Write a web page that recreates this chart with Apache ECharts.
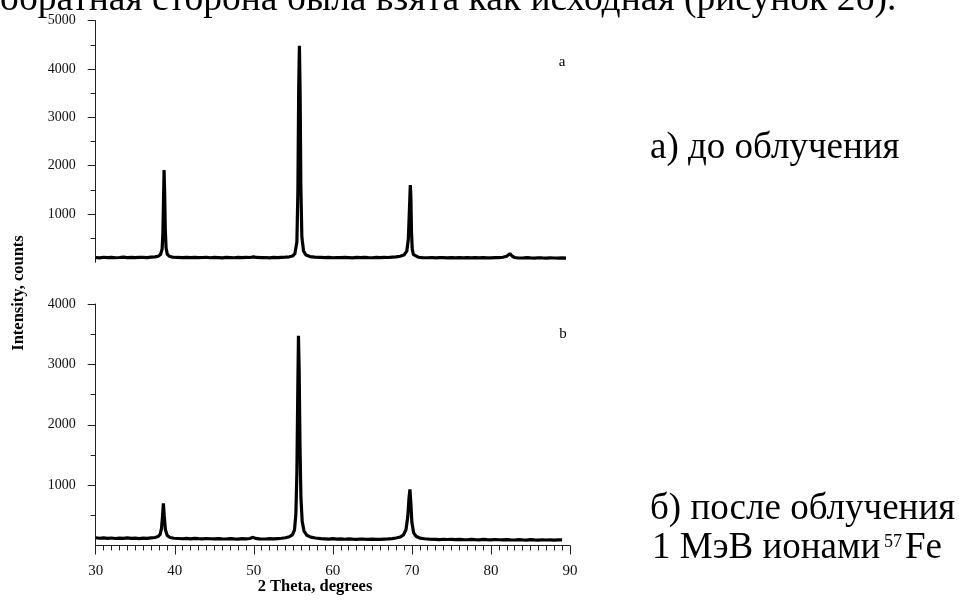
<!DOCTYPE html>
<html>
<head>
<meta charset="utf-8">
<script src="https://cdn.jsdelivr.net/npm/echarts@6/dist/echarts.min.js"></script>
<style>html,body{margin:0;padding:0;background:#fff}#c{width:959px;height:601px}</style>
</head>
<body>
<div id="c"></div>
<script>
// ---- data ----
const xTicks = [30, 40, 50, 60, 70, 80, 90];
const yTicksA = [1000, 2000, 3000, 4000, 5000];
const yTicksB = [1000, 2000, 3000, 4000];

// pattern a (before irradiation)
const thetaA = [30, 30.5, 31, 31.5, 32, 32.5, 33, 33.5, 34, 34.5, 35, 35.5, 36, 36.5, 37, 37.5, 37.9, 38.2, 38.4, 38.5, 38.58, 38.65, 38.72, 38.8, 38.9, 39.05, 39.3, 39.7, 40.2, 41, 41.5, 42, 42.5, 43, 43.5, 44, 44.5, 45, 45.5, 46, 46.5, 47, 47.5, 48, 48.5, 49, 49.5, 50, 50.3, 51, 51.5, 52, 52.5, 53, 53.5, 54, 54.5, 54.9, 55.2, 55.45, 55.58, 55.68, 55.77, 55.86, 55.95, 56.08, 56.3, 56.6, 57.1, 57.7, 58.5, 59, 59.5, 60, 60.5, 61, 61.5, 62, 62.5, 63, 63.5, 64, 64.5, 65, 65.5, 66, 66.5, 67, 67.5, 68, 68.5, 69, 69.35, 69.55, 69.7, 69.8, 69.87, 69.95, 70.05, 70.2, 70.45, 70.8, 71.3, 72, 72.5, 73, 73.5, 74, 74.5, 75, 75.5, 76, 76.5, 77, 77.5, 78, 78.5, 79, 79.5, 80, 80.5, 81, 81.5, 82, 82.4, 82.7, 83.0, 83.4, 84, 84.5, 85, 85.5, 86, 86.5, 87, 87.5, 88, 88.5, 89, 89.5, 90];
const countsA = [100, 92, 104, 96, 101, 94, 99, 106, 97, 102, 95, 100, 103, 98, 106, 112, 125, 160, 270, 600, 1300, 1910, 1450, 700, 300, 170, 125, 108, 100, 97, 103, 95, 101, 96, 99, 104, 94, 100, 97, 92, 101, 98, 94, 100, 96, 103, 99, 112, 100, 95, 99, 93, 101, 97, 103, 106, 114, 130, 180, 420, 1500, 3600, 4480, 3500, 1600, 520, 230, 150, 118, 106, 100, 96, 102, 94, 99, 95, 101, 97, 93, 100, 96, 103, 98, 94, 100, 97, 102, 99, 106, 112, 125, 150, 230, 480, 1150, 1600, 1350, 620, 260, 160, 120, 105, 98, 94, 99, 92, 97, 95, 90, 98, 93, 96, 91, 97, 92, 95, 90, 96, 93, 91, 97, 95, 105, 125, 180, 125, 100, 92, 89, 95, 91, 88, 94, 90, 87, 93, 89, 86, 92, 88];

// pattern b (after 1 MeV 57Fe irradiation)
const thetaB = [30, 30.5, 31, 31.5, 32, 32.5, 33, 33.5, 34, 34.5, 35, 35.5, 36, 36.5, 37, 37.5, 37.9, 38.15, 38.32, 38.45, 38.56, 38.67, 38.82, 39.05, 39.4, 39.9, 40.5, 41, 41.5, 42, 42.5, 43, 43.5, 44, 44.5, 45, 45.5, 46, 46.5, 47, 47.5, 48, 48.5, 49, 49.5, 49.9, 50.2, 50.7, 51.5, 52, 52.5, 53, 53.5, 54, 54.5, 54.9, 55.15, 55.32, 55.45, 55.55, 55.65, 55.74, 55.84, 55.96, 56.12, 56.35, 56.7, 57.2, 57.8, 58.5, 59, 59.5, 60, 60.5, 61, 61.5, 62, 62.5, 63, 63.5, 64, 64.5, 65, 65.5, 66, 66.5, 67, 67.5, 68, 68.5, 68.9, 69.25, 69.48, 69.63, 69.75, 69.86, 70.0, 70.22, 70.55, 71, 71.6, 72.2, 73, 73.5, 74, 74.5, 75, 75.5, 76, 76.5, 77, 77.5, 78, 78.5, 79, 79.5, 80, 80.5, 81, 81.5, 82, 82.5, 83, 83.5, 84, 84.5, 85, 85.5, 86, 86.5, 87, 87.5, 88, 88.5, 89, 89.5, 90];
const countsB = [128, 120, 126, 118, 124, 116, 122, 119, 125, 117, 121, 115, 122, 118, 126, 132, 148, 185, 280, 480, 700, 490, 260, 165, 132, 120, 116, 112, 119, 111, 117, 113, 110, 116, 112, 109, 115, 111, 108, 114, 110, 107, 113, 110, 116, 135, 118, 110, 108, 113, 110, 115, 120, 128, 145, 180, 260, 520, 1200, 2400, 3475, 2900, 1700, 800, 400, 240, 170, 138, 124, 115, 111, 107, 113, 106, 110, 104, 109, 105, 102, 108, 104, 101, 107, 103, 100, 106, 109, 115, 124, 140, 170, 260, 480, 780, 930, 720, 380, 210, 150, 123, 112, 106, 102, 98, 104, 99, 101, 96, 102, 98, 95, 101, 97, 94, 100, 96, 93, 99, 95, 92, 98, 94, 91, 97, 93, 90, 96, 92, 89, 95, 91, 94, 90, 93, 92];

const serifFont = '"Liberation Serif", "DejaVu Serif", serif';

function pairs(xs, ys) { return xs.map((x, i) => [x, ys[i]]); }

const chart = echarts.init(document.getElementById('c'), null, { renderer: 'canvas' });

const yAxisCommon = (max, ticks) => ({
  type: 'value', min: 0, max: max, interval: 1000,
  axisLine: { show: true, lineStyle: { color: '#222', width: 1 } },
  axisTick: { show: true, length: 8, customValues: ticks, lineStyle: { color: '#222' } },
  minorTick: { show: true, splitNumber: 2, length: 5, lineStyle: { color: '#222' } },
  splitLine: { show: false },
  axisLabel: {
    margin: 20, color: '#111', fontFamily: serifFont, fontSize: 14,
    formatter: v => ticks.indexOf(v) >= 0 ? String(v) : ''
  }
});

// place text by its alphabetic baseline (top-aligned box, Liberation Serif)
function textAt(str, x, baseline, size, extra) {
  return Object.assign({
    type: 'text', x: x, y: baseline - 0.805 * size,
    style: { text: str, font: size + 'px ' + serifFont, fill: '#000', align: 'left', verticalAlign: 'top' }
  }, extra || {});
}

const option = {
  animation: false,
  backgroundColor: '#fff',
  grid: [
    { left: 95.7, top: 20.7, width: 474.3, height: 241.6 },
    { left: 95.7, top: 304, width: 474.3, height: 241.5 }
  ],
  xAxis: [
    { type: 'value', gridIndex: 0, min: 30, max: 90, interval: 10, show: false },
    {
      type: 'value', gridIndex: 1, min: 30, max: 90, interval: 10,
      axisLine: { show: true, onZero: false, lineStyle: { color: '#222', width: 1 } },
      axisTick: { show: true, length: 9, lineStyle: { color: '#222' } },
      minorTick: { show: true, splitNumber: 10, length: 5, lineStyle: { color: '#222' } },
      splitLine: { show: false },
      axisLabel: {
        margin: 18, color: '#111', fontFamily: serifFont, fontSize: 15,
        formatter: v => xTicks.indexOf(v) >= 0 ? String(v) : ''
      }
    }
  ],
  yAxis: [
    Object.assign({ gridIndex: 0 }, yAxisCommon(5000, yTicksA)),
    Object.assign({ gridIndex: 1 }, yAxisCommon(4000, yTicksB))
  ],
  series: [
    {
      name: 'a', type: 'line', xAxisIndex: 0, yAxisIndex: 0,
      data: pairs(thetaA, countsA), symbol: 'none', smooth: false,
      lineStyle: { color: '#000', width: 3.2 }
    },
    {
      name: 'b', type: 'line', xAxisIndex: 1, yAxisIndex: 1,
      data: pairs(thetaB, countsB), symbol: 'none', smooth: false,
      lineStyle: { color: '#000', width: 3.2 }
    }
  ],
  graphic: [
    textAt('обратная сторона была взята как исходная (рисунок 2б).', 0, 11, 37.5),
    { type: 'text', x: 562, y: 62, style: { text: 'a', font: '15px ' + serifFont, fill: '#000', align: 'center', verticalAlign: 'middle' } },
    { type: 'text', x: 563, y: 334, style: { text: 'b', font: '15px ' + serifFont, fill: '#000', align: 'center', verticalAlign: 'middle' } },
    { type: 'text', x: 19, y: 293, rotation: Math.PI / 2, style: { text: 'Intensity, counts', font: 'bold 16.5px ' + serifFont, fill: '#000', align: 'center', verticalAlign: 'middle' } },
    { type: 'text', x: 315, y: 587, style: { text: '2 Theta, degrees', font: 'bold 16.5px ' + serifFont, fill: '#000', align: 'center', verticalAlign: 'middle' } },
    textAt('а) до облучения', 650, 160, 37),
    textAt('б) после облучения', 650, 521, 37),
    textAt('1 МэВ ионами', 652, 560, 37),
    textAt('57', 884, 548, 18),
    textAt('Fe', 905, 560, 37)
  ]
};
chart.setOption(option);
</script>
</body>
</html>
